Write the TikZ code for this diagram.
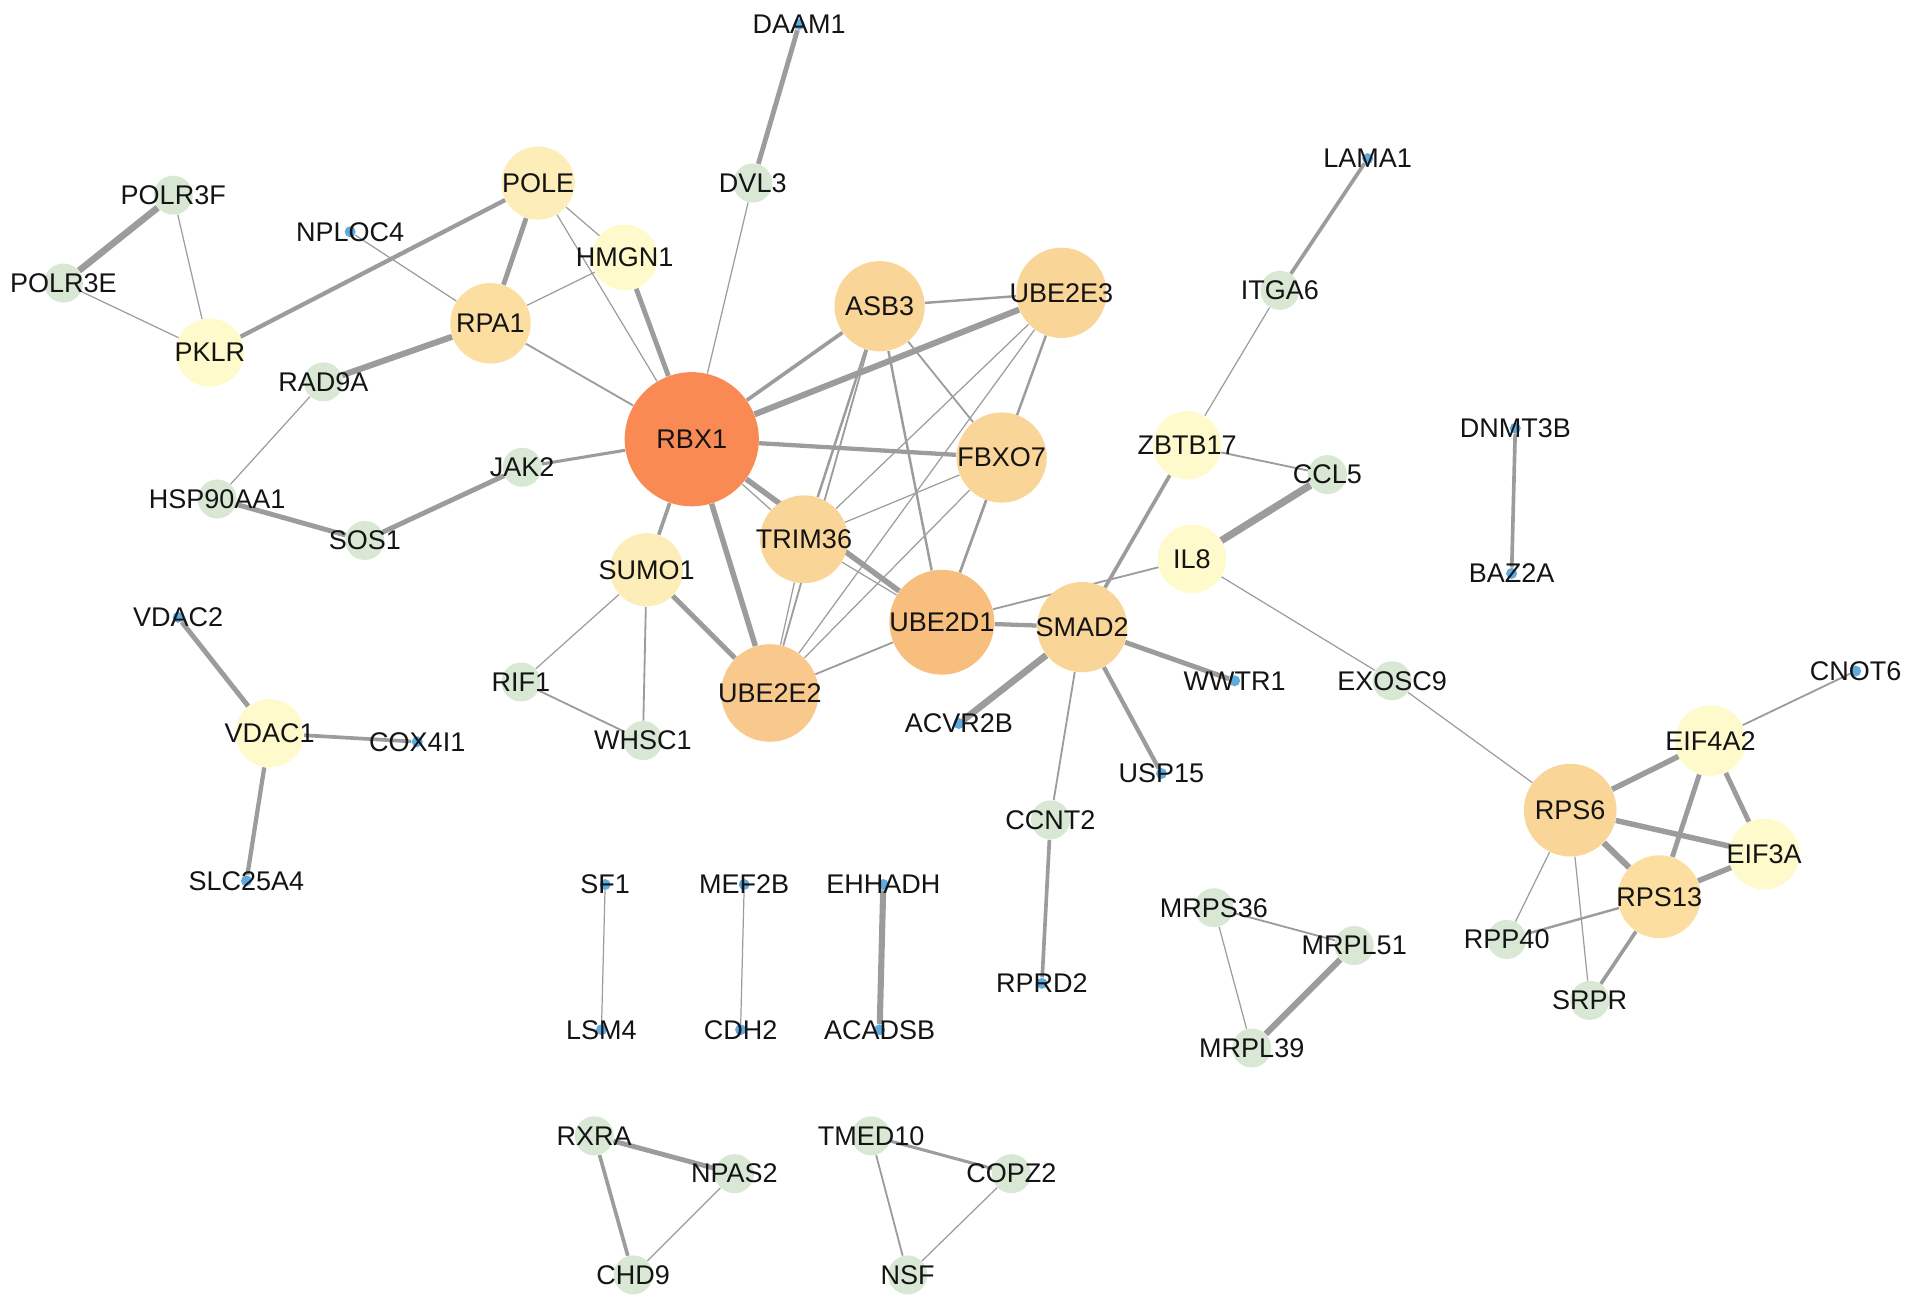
\documentclass[tikz,border=0pt]{standalone}
\usepackage{fontspec}
\setmainfont{Liberation Sans}
\usepackage{tikz}
\usetikzlibrary{backgrounds}
\definecolor{degA}{RGB}{249, 138, 84}
\definecolor{degB}{RGB}{248, 190, 126}
\definecolor{degC}{RGB}{249, 200, 140}
\definecolor{degD}{RGB}{250, 213, 152}
\definecolor{degE}{RGB}{252, 222, 160}
\definecolor{degF}{RGB}{253, 237, 185}
\definecolor{degG}{RGB}{254, 250, 204}
\definecolor{leafgreen}{RGB}{216, 232, 212}
\definecolor{leafblue}{RGB}{95, 170, 222}
\definecolor{edgegray}{RGB}{156, 156, 156}
\newcommand{\genefont}{\fontsize{12.6}{15}\selectfont}
\tikzset{
  gene/.style={circle, inner sep=0pt, draw=none, minimum size=#1*0.04cm},
  leaf/.style={gene=16, fill=leafgreen},
  tip/.style={gene=4.5, fill=leafblue},
  link/.style={draw=edgegray, line width=#1*0.02cm},
  every label/.style={font=\genefont, text=black!92, inner sep=0pt}
}

\begin{document}
\begin{tikzpicture}[x=0.02cm, y=-0.02cm]
  \useasboundingbox (0,0) rectangle (1568,1076);

  % Main component
  \node[gene=55, fill=degA, label=center:RBX1] (rbx1) at (567, 360) {};
  \node[gene=43, fill=degB, label=center:UBE2D1] (ube2d1) at (772, 510) {};
  \node[gene=40, fill=degC, label=center:UBE2E2] (ube2e2) at (631, 568) {};
  \node[gene=37, fill=degD, label=center:ASB3] (asb3) at (721, 251) {};
  \node[gene=37, fill=degD, label=center:UBE2E3] (ube2e3) at (870, 240) {};
  \node[gene=37, fill=degD, label=center:FBXO7] (fbxo7) at (821, 375) {};
  \node[gene=36, fill=degD, label=center:TRIM36] (trim36) at (659, 442) {};
  \node[gene=37, fill=degD, label=center:SMAD2] (smad2) at (887, 514) {};
  \node[gene=33, fill=degE, label=center:RPA1] (rpa1) at (402, 265) {};
  \node[gene=30, fill=degF, label=center:POLE] (pole) at (441, 150) {};
  \node[gene=30, fill=degF, label=center:SUMO1] (sumo1) at (530, 467) {};
  \node[gene=27, fill=degG, label=center:HMGN1] (hmgn1) at (512, 211) {};
  \node[gene=28, fill=degG, label=center:PKLR] (pklr) at (172, 289) {};
  \node[gene=28, fill=degG, label=center:ZBTB17] (zbtb17) at (973, 365) {};
  \node[gene=28, fill=degG, label=center:IL8] (il8) at (977, 458) {};
  \node[leaf, label=center:DVL3] (dvl3) at (617, 150) {};
  \node[leaf, label=center:POLR3F] (polr3f) at (142, 160) {};
  \node[leaf, label=center:POLR3E] (polr3e) at (52, 232) {};
  \node[leaf, label=center:RAD9A] (rad9a) at (265, 313) {};
  \node[leaf, label=center:JAK2] (jak2) at (428, 383) {};
  \node[leaf, label=center:HSP90AA1] (hsp90aa1) at (178, 409) {};
  \node[leaf, label=center:SOS1] (sos1) at (299, 443) {};
  \node[leaf, label=center:RIF1] (rif1) at (427, 559) {};
  \node[leaf, label=center:WHSC1] (whsc1) at (527, 607) {};
  \node[leaf, label=center:ITGA6] (itga6) at (1049, 238) {};
  \node[leaf, label=center:CCL5] (ccl5) at (1088, 389) {};
  \node[leaf, label=center:CCNT2] (ccnt2) at (861, 672) {};
  \node[leaf, label=center:EXOSC9] (exosc9) at (1141, 558) {};
  \node[tip, label=center:DAAM1] (daam1) at (655, 20) {};
  \node[tip, label=center:NPLOC4] (nploc4) at (287, 190) {};
  \node[tip, label=center:LAMA1] (lama1) at (1121, 130) {};
  \node[tip, label=center:ACVR2B] (acvr2b) at (786, 593) {};
  \node[tip, label=center:WWTR1] (wwtr1) at (1012, 558) {};
  \node[tip, label=center:USP15] (usp15) at (952, 634) {};
  \node[tip, label=center:RPRD2] (rprd2) at (854, 806) {};

  % Ribosomal component
  \node[gene=38, fill=degD, label=center:RPS6] (rps6) at (1287, 664) {};
  \node[gene=34, fill=degE, label=center:RPS13] (rps13) at (1360, 735) {};
  \node[gene=29, fill=degG, label=center:EIF4A2] (eif4a2) at (1402, 607) {};
  \node[gene=29, fill=degG, label=center:EIF3A] (eif3a) at (1446, 700) {};
  \node[leaf, label=center:RPP40] (rpp40) at (1235, 770) {};
  \node[leaf, label=center:SRPR] (srpr) at (1303, 820) {};
  \node[tip, label=center:CNOT6] (cnot6) at (1521, 550) {};

  % Small components
  \node[gene=28, fill=degG, label=center:VDAC1] (vdac1) at (221, 601) {};
  \node[tip, label=center:VDAC2] (vdac2) at (146, 506) {};
  \node[tip, label=center:COX4I1] (cox4i1) at (342, 608) {};
  \node[tip, label=center:SLC25A4] (slc25a4) at (202, 722) {};
  \node[tip, label=center:DNMT3B] (dnmt3b) at (1242, 351) {};
  \node[tip, label=center:BAZ2A] (baz2a) at (1239, 470) {};
  \node[tip, label=center:SF1] (sf1) at (496, 725) {};
  \node[tip, label=center:LSM4] (lsm4) at (493, 844) {};
  \node[tip, label=center:MEF2B] (mef2b) at (610, 725) {};
  \node[tip, label=center:CDH2] (cdh2) at (607, 844) {};
  \node[tip, label=center:EHHADH] (ehhadh) at (724, 725) {};
  \node[tip, label=center:ACADSB] (acadsb) at (721, 844) {};
  \node[leaf, label=center:MRPS36] (mrps36) at (995, 744) {};
  \node[leaf, label=center:MRPL51] (mrpl51) at (1110, 775) {};
  \node[leaf, label=center:MRPL39] (mrpl39) at (1026, 859) {};
  \node[leaf, label=center:RXRA] (rxra) at (487, 931) {};
  \node[leaf, label=center:NPAS2] (npas2) at (602, 962) {};
  \node[leaf, label=center:CHD9] (chd9) at (519, 1045) {};
  \node[leaf, label=center:TMED10] (tmed10) at (714, 931) {};
  \node[leaf, label=center:COPZ2] (copz2) at (829, 962) {};
  \node[leaf, label=center:NSF] (nsf) at (744, 1045) {};

  % Interactions
  \begin{scope}[on background layer]
    \draw[link=4] (daam1) -- (dvl3);
    \draw[link=1] (dvl3) -- (rbx1);
    \draw[link=5.5] (polr3f) -- (polr3e);
    \draw[link=1] (polr3f) -- (pklr);
    \draw[link=1] (polr3e) -- (pklr);
    \draw[link=3.5] (pklr) -- (pole);
    \draw[link=4] (pole) -- (rpa1);
    \draw[link=1] (pole) -- (hmgn1);
    \draw[link=1] (pole) -- (rbx1);
    \draw[link=4] (hmgn1) -- (rbx1);
    \draw[link=1] (hmgn1) -- (rpa1);
    \draw[link=1] (nploc4) -- (rpa1);
    \draw[link=5] (rpa1) -- (rad9a);
    \draw[link=1.5] (rpa1) -- (rbx1);
    \draw[link=1] (rad9a) -- (hsp90aa1);
    \draw[link=4] (hsp90aa1) -- (sos1);
    \draw[link=4] (sos1) -- (jak2);
    \draw[link=2.5] (jak2) -- (rbx1);
    \draw[link=3] (rbx1) -- (asb3);
    \draw[link=5] (rbx1) -- (ube2e3);
    \draw[link=3.5] (rbx1) -- (fbxo7);
    \draw[link=4.5] (rbx1) -- (ube2d1);
    \draw[link=1] (rbx1) -- (trim36);
    \draw[link=1] (trim36) -- (ube2d1);
    \draw[link=3] (rbx1) -- (sumo1);
    \draw[link=4.5] (rbx1) -- (ube2e2);
    \draw[link=4] (sumo1) -- (ube2e2);
    \draw[link=1.5] (sumo1) -- (whsc1);
    \draw[link=1] (sumo1) -- (rif1);
    \draw[link=1.5] (rif1) -- (whsc1);
    \draw[link=2] (asb3) -- (ube2e3);
    \draw[link=1.5] (asb3) -- (fbxo7);
    \draw[link=2] (asb3) -- (ube2d1);
    \draw[link=2] (asb3) -- (trim36);
    \draw[link=1.5] (asb3) -- (ube2e2);
    \draw[link=1] (ube2e3) -- (trim36);
    \draw[link=1] (ube2e3) -- (ube2e2);
    \draw[link=2] (ube2e3) -- (ube2d1);
    \draw[link=1] (fbxo7) -- (trim36);
    \draw[link=1] (fbxo7) -- (ube2e2);
    \draw[link=2] (fbxo7) -- (ube2d1);
    \draw[link=1] (trim36) -- (ube2e2);
    \draw[link=1.5] (ube2e2) -- (ube2d1);
    \draw[link=3.5] (ube2d1) -- (smad2);
    \draw[link=1.5] (ube2d1) -- (il8);
    \draw[link=3] (smad2) -- (zbtb17);
    \draw[link=5.5] (smad2) -- (acvr2b);
    \draw[link=4] (smad2) -- (wwtr1);
    \draw[link=3.5] (smad2) -- (usp15);
    \draw[link=1.5] (smad2) -- (ccnt2);
    \draw[link=3] (ccnt2) -- (rprd2);
    \draw[link=1] (zbtb17) -- (itga6);
    \draw[link=3] (itga6) -- (lama1);
    \draw[link=1.5] (zbtb17) -- (ccl5);
    \draw[link=6] (il8) -- (ccl5);
    \draw[link=1] (il8) -- (exosc9);
    \draw[link=1] (exosc9) -- (rps6);
    \draw[link=4.5] (rps6) -- (eif4a2);
    \draw[link=4.5] (rps6) -- (eif3a);
    \draw[link=5] (rps6) -- (rps13);
    \draw[link=1] (rps6) -- (rpp40);
    \draw[link=1] (rps6) -- (srpr);
    \draw[link=4] (eif4a2) -- (rps13);
    \draw[link=4] (eif4a2) -- (eif3a);
    \draw[link=1.5] (eif4a2) -- (cnot6);
    \draw[link=4.5] (eif3a) -- (rps13);
    \draw[link=2] (rps13) -- (rpp40);
    \draw[link=3] (rps13) -- (srpr);
    \draw[link=1.5] (mrps36) -- (mrpl51);
    \draw[link=1] (mrps36) -- (mrpl39);
    \draw[link=5] (mrpl51) -- (mrpl39);
    \draw[link=4] (vdac2) -- (vdac1);
    \draw[link=3] (vdac1) -- (cox4i1);
    \draw[link=3.5] (vdac1) -- (slc25a4);
    \draw[link=1] (sf1) -- (lsm4);
    \draw[link=1] (mef2b) -- (cdh2);
    \draw[link=5] (ehhadh) -- (acadsb);
    \draw[link=3] (dnmt3b) -- (baz2a);
    \draw[link=4] (rxra) -- (npas2);
    \draw[link=3] (rxra) -- (chd9);
    \draw[link=1] (npas2) -- (chd9);
    \draw[link=2.5] (tmed10) -- (copz2);
    \draw[link=1.5] (tmed10) -- (nsf);
    \draw[link=1] (copz2) -- (nsf);
  \end{scope}
\end{tikzpicture}
\end{document}
